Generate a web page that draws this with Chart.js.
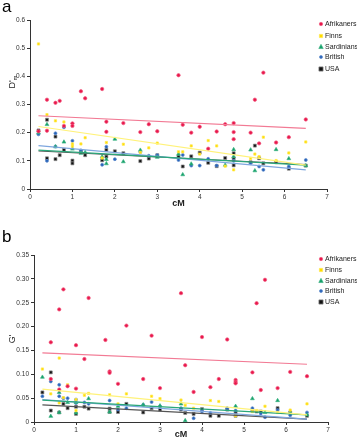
<!DOCTYPE html>
<html>
<head>
<meta charset="utf-8">
<script src="https://cdn.jsdelivr.net/npm/chart.js@4.4.0/dist/chart.umd.min.js"></script>
<style>
  html, body { margin: 0; padding: 0; background: #fff; }
  #wrap { position: relative; width: 357px; height: 440px; }
  canvas { position: absolute; left: 0; }
  #chartA { top: 0; }
  #chartB { top: 220px; }
  .tag { position: absolute; left: 2px; font: 17px "Liberation Sans", Arial, sans-serif; color: #000; }
</style>
</head>
<body>
<div id="wrap">
  <canvas id="chartA" width="357" height="220"></canvas>
  <canvas id="chartB" width="357" height="220"></canvas>
  <div class="tag" style="top:-3px">a</div>
  <div class="tag" style="top:227px">b</div>
</div>
<script>
const seriesNames = ["Afrikaners", "Finns", "Sardinians", "British", "USA"];

// panel a : D'm against cM
const afrikanersA = [[0.2,0.205],[0.4,0.317],[0.4,0.207],[0.6,0.306],[0.7,0.313],[0.8,0.224],[1.0,0.233],[1.0,0.224],[1.2,0.347],[1.3,0.322],[1.7,0.355],[1.8,0.239],[1.8,0.203],[2.2,0.234],[2.6,0.202],[2.8,0.23],[3.0,0.205],[3.5,0.404],[3.6,0.228],[3.8,0.2],[4.0,0.221],[4.2,0.143],[4.4,0.204],[4.6,0.23],[4.8,0.234],[4.8,0.202],[4.8,0.177],[5.2,0.2],[5.3,0.317],[5.4,0.162],[5.5,0.413],[5.8,0.165],[6.1,0.184],[6.5,0.247]];
const finnsA = [[0.2,0.515],[0.4,0.264],[0.6,0.242],[0.8,0.238],[1.0,0.16],[1.0,0.152],[1.2,0.16],[1.3,0.182],[1.7,0.11],[1.8,0.165],[2.2,0.159],[2.6,0.13],[2.8,0.146],[3.0,0.163],[3.5,0.132],[3.6,0.132],[3.8,0.153],[4.0,0.124],[4.2,0.172],[4.4,0.153],[4.6,0.081],[4.8,0.068],[5.2,0.108],[5.3,0.124],[5.4,0.115],[5.5,0.184],[5.8,0.101],[6.1,0.128],[6.5,0.167]];
const sardiniansA = [[0.2,0.2],[0.4,0.229],[0.6,0.15],[0.8,0.167],[1.0,0.142],[1.2,0.127],[1.3,0.13],[1.7,0.115],[1.8,0.105],[1.8,0.09],[2.0,0.177],[2.2,0.097],[2.6,0.138],[3.0,0.113],[3.5,0.124],[3.6,0.051],[3.8,0.089],[4.6,0.085],[4.8,0.14],[4.8,0.115],[5.2,0.139],[5.3,0.065],[5.8,0.14],[6.1,0.108],[6.5,0.083]];
const britishA = [[0.2,0.194],[0.4,0.1],[0.6,0.198],[0.6,0.151],[0.8,0.219],[1.0,0.171],[1.2,0.137],[1.7,0.086],[1.8,0.15],[2.0,0.106],[2.6,0.131],[2.8,0.118],[3.0,0.12],[3.5,0.103],[3.6,0.121],[3.8,0.083],[4.0,0.083],[4.2,0.107],[4.4,0.083],[4.8,0.1],[5.2,0.092],[5.4,0.08],[5.5,0.068],[6.1,0.08],[6.5,0.103]];
const usaA = [[0.2,0.208],[0.4,0.246],[0.4,0.109],[0.6,0.186],[0.6,0.106],[0.7,0.12],[0.8,0.139],[1.0,0.101],[1.0,0.091],[1.2,0.133],[1.3,0.12],[1.7,0.102],[1.8,0.139],[1.8,0.115],[2.0,0.134],[2.2,0.127],[2.6,0.099],[2.8,0.108],[3.0,0.12],[3.5,0.115],[3.6,0.08],[3.8,0.116],[4.0,0.129],[4.2,0.093],[4.4,0.081],[4.6,0.11],[4.8,0.127],[4.8,0.109],[4.8,0.084],[5.2,0.095],[5.3,0.154],[5.4,0.109],[5.5,0.091],[5.8,0.095],[6.1,0.072],[6.5,0.083]];
// trend lines, end points
const trendA = [
  [[0.2,0.26],[6.5,0.215]],
  [[0.2,0.222],[6.5,0.085]],
  [[0.2,0.138],[6.5,0.085]],
  [[0.2,0.154],[6.5,0.068]],
  [[0.2,0.135],[6.5,0.087]]
];

// panel b : G' against cM
const afrikanersB = [[0.4,0.167],[0.4,0.09],[0.6,0.236],[0.6,0.068],[0.7,0.278],[0.8,0.075],[1.0,0.161],[1.0,0.07],[1.2,0.132],[1.3,0.26],[1.7,0.172],[1.8,0.106],[1.8,0.103],[2.0,0.08],[2.2,0.202],[2.6,0.09],[2.8,0.181],[3.0,0.071],[3.5,0.27],[3.6,0.119],[3.8,0.063],[4.0,0.178],[4.2,0.073],[4.4,0.09],[4.6,0.173],[4.8,0.088],[4.8,0.084],[4.8,0.081],[5.2,0.104],[5.3,0.249],[5.4,0.067],[5.5,0.298],[5.8,0.071],[6.1,0.105],[6.5,0.096]];
const finnsB = [[0.2,0.111],[0.4,0.059],[0.6,0.134],[0.6,0.04],[0.7,0.051],[0.8,0.078],[1.0,0.047],[1.0,0.024],[1.2,0.056],[1.3,0.06],[1.8,0.057],[2.0,0.038],[2.2,0.059],[2.8,0.054],[3.0,0.049],[3.5,0.046],[3.6,0.035],[3.8,0.029],[4.2,0.045],[4.4,0.043],[4.8,0.013],[5.2,0.022],[5.3,0.024],[5.5,0.033],[5.8,0.02],[6.1,0.025],[6.5,0.038]];
const sardiniansB = [[0.2,0.094],[0.4,0.012],[0.6,0.062],[0.6,0.02],[0.8,0.041],[1.0,0.041],[1.0,0.019],[1.3,0.049],[1.8,0.021],[2.0,0.033],[2.6,0.036],[3.0,0.034],[3.5,0.038],[3.6,0.003],[4.8,0.033],[5.2,0.049],[5.5,0.02],[5.8,0.045],[6.1,0.02],[6.5,0.015]];
const britishB = [[0.2,0.054],[0.4,0.085],[0.6,0.078],[0.6,0.054],[0.7,0.05],[0.8,0.05],[1.0,0.047],[1.0,0.04],[1.2,0.041],[1.3,0.038],[1.8,0.045],[2.0,0.026],[2.2,0.029],[2.6,0.036],[2.8,0.042],[3.0,0.033],[3.5,0.029],[3.8,0.008],[4.0,0.022],[4.2,0.019],[4.6,0.029],[4.8,0.024],[5.2,0.029],[5.4,0.018],[5.5,0.01],[5.8,0.025],[6.1,0.014],[6.5,0.02]];
const usaB = [[0.2,0.062],[0.4,0.104],[0.4,0.024],[0.6,0.02],[0.7,0.038],[0.8,0.029],[1.0,0.032],[1.0,0.017],[1.2,0.032],[1.3,0.028],[1.8,0.028],[1.8,0.021],[2.0,0.021],[2.2,0.038],[2.6,0.02],[2.8,0.029],[3.0,0.026],[3.5,0.026],[3.6,0.019],[3.8,0.017],[4.0,0.027],[4.2,0.013],[4.4,0.013],[4.6,0.026],[4.8,0.02],[4.8,0.013],[5.2,0.024],[5.3,0.022],[5.4,0.022],[5.8,0.029],[6.1,0.02],[6.5,0.013]];
const trendB = [
  [[0.2,0.145],[6.5,0.121]],
  [[0.2,0.069],[6.5,0.015]],
  [[0.2,0.046],[6.5,0.015]],
  [[0.2,0.047],[6.5,0.006]],
  [[0.2,0.036],[6.5,0.006]]
];

const xTicks = [0, 1, 2, 3, 4, 5, 6, 7];

// look of each population
const pointColors = ["#e8174c", "#ffdc00", "#139e68", "#2763b8", "#111111"];
const pointBorders = ["#f05a7e", "#ffe84d", "#3fb585", "#5a88cc", "#888888"];
const pointShapes = ["circle", "rect", "triangle", "circle", "rect"];
const pointSizes = [1.7, 1.6, 2.2, 1.5, 2.1];
const lineColors = ["#f27a94", "#fff27a", "#2aa77a", "#7ea6de", "#555555"];

const FONT = "'Liberation Sans', Arial, sans-serif";

function toXY(pairs) {
  return pairs.map(p => ({ x: p[0], y: p[1] }));
}

function drawMarker(ctx, i, x, y) {
  const r = pointSizes[i];
  ctx.fillStyle = pointColors[i];
  ctx.strokeStyle = pointBorders[i];
  ctx.lineWidth = 0.7;
  ctx.beginPath();
  if (pointShapes[i] === "circle") {
    ctx.arc(x, y, r, 0, Math.PI * 2);
  } else if (pointShapes[i] === "triangle") {
    ctx.moveTo(x, y - r * 1.2);
    ctx.lineTo(x + r, y + r * 0.7);
    ctx.lineTo(x - r, y + r * 0.7);
    ctx.closePath();
  } else {
    ctx.rect(x - r, y - r, r * 2, r * 2);
  }
  ctx.fill();
  ctx.stroke();
}

// legend + rotated y label drawn onto the canvas
const overlay = {
  id: "overlay",
  afterDraw(chart, args, opts) {
    const ctx = chart.ctx;
    ctx.save();
    ctx.font = "7px " + FONT;
    ctx.textBaseline = "middle";
    seriesNames.forEach((name, i) => {
      const y = opts.legendTop + opts.legendRows[i];
      drawMarker(ctx, i, 321, y);
      ctx.fillStyle = "#222";
      ctx.fillText(name, 325, y + 0.5);
    });

    ctx.translate(opts.labelX, opts.labelY);
    ctx.rotate(-Math.PI / 2);
    ctx.fillStyle = "#222";
    ctx.textBaseline = "alphabetic";
    ctx.font = "9px " + FONT;
    const main = opts.label;
    const w = ctx.measureText(main).width;
    const sw = opts.sub ? 5 : 0;
    ctx.fillText(main, -(w + sw) / 2, 3);
    if (opts.sub) {
      ctx.font = "6px " + FONT;
      ctx.fillText(opts.sub, -(w + sw) / 2 + w, 5);
    }
    ctx.restore();
  }
};

function makeChart(id, series, trends, yMax, yStep, layout) {
  const datasets = [];
  series.forEach((pts, i) => {
    datasets.push({
      type: "scatter",
      label: seriesNames[i],
      data: toXY(pts),
      backgroundColor: pointColors[i],
      borderColor: pointBorders[i],
      borderWidth: 0.7,
      pointStyle: pointShapes[i],
      pointRadius: pointSizes[i],
      order: 10 + i
    });
  });
  trends.forEach((pts, i) => {
    datasets.push({
      type: "line",
      label: seriesNames[i] + " trend",
      data: toXY(pts),
      borderColor: lineColors[i],
      borderWidth: 1.2,
      pointRadius: 0,
      fill: false,
      order: i
    });
  });

  return new Chart(document.getElementById(id), {
    type: "scatter",
    data: { datasets },
    options: {
      responsive: false,
      animation: false,
      layout: { padding: { top: layout.top, right: layout.right, bottom: layout.bottom, left: 0 } },
      plugins: {
        legend: { display: false },
        tooltip: { enabled: false },
        overlay: layout.overlay
      },
      scales: {
        x: {
          type: "linear",
          min: 0,
          max: 7,
          afterBuildTicks: s => { s.ticks = xTicks.map(v => ({ value: v })); },
          afterFit: s => { s.height = layout.xHeight; },
          grid: { drawOnChartArea: false, drawTicks: true, tickLength: 3, color: "#333" },
          border: { color: "#333", width: 1 },
          ticks: { font: { size: 6.5, family: FONT }, color: "#333", padding: 1, maxRotation: 0 },
          title: {
            display: true,
            text: "cM",
            color: "#222",
            font: { size: 9, weight: "bold", family: FONT },
            padding: { top: 0, bottom: 0 }
          }
        },
        y: {
          min: 0,
          max: yMax,
          afterFit: s => { s.width = layout.yWidth; },
          grid: { drawOnChartArea: false, drawTicks: true, tickLength: 3, color: "#333" },
          border: { color: "#333", width: 1 },
          ticks: { stepSize: yStep, font: { size: 6.5, family: FONT }, color: "#333", padding: 2 }
        }
      }
    },
    plugins: [overlay]
  });
}

document.addEventListener("DOMContentLoaded", function () {
  makeChart("chartA", [afrikanersA, finnsA, sardiniansA, britishA, usaA], trendA, 0.6, 0.1, {
    top: 20, right: 30, bottom: 11, xHeight: 20, yWidth: 30,
    overlay: { legendTop: 24, legendRows: [0, 12, 23, 33, 45], label: "D'", sub: "m", labelX: 12, labelY: 82 }
  });
  makeChart("chartB", [afrikanersB, finnsB, sardiniansB, britishB, usaB], trendB, 0.35, 0.05, {
    top: 35, right: 29, bottom: 0, xHeight: 18, yWidth: 34,
    overlay: { legendTop: 39, legendRows: [0, 11, 22, 32, 43], label: "G'", sub: "", labelX: 12, labelY: 119 }
  });
});
</script>
</body>
</html>
